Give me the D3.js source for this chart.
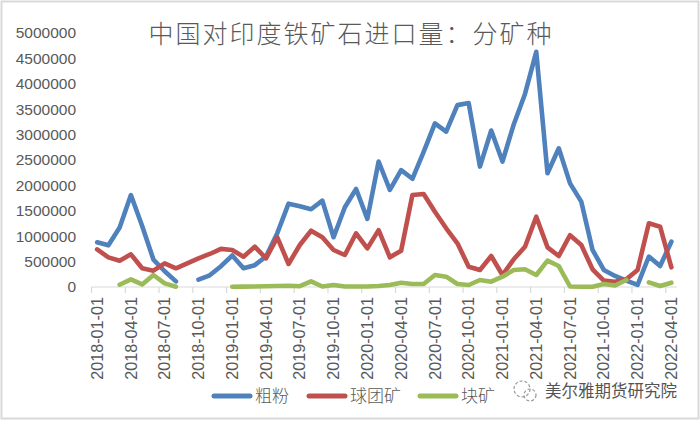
<html>
<head>
<meta charset="utf-8">
<title>中国对印度铁矿石进口量</title>
<script src="https://cdn.jsdelivr.net/npm/d3@7/dist/d3.min.js"></script>
<style>
  body { margin: 0; background: #fff; }
  svg text { fill: #595959; }
</style>
</head>
<body>
<div id="chart"></div>
<script>
// months 2018-01 .. 2022-04
var months = ["2018-01-01","2018-02-01","2018-03-01","2018-04-01","2018-05-01","2018-06-01",
  "2018-07-01","2018-08-01","2018-09-01","2018-10-01","2018-11-01","2018-12-01",
  "2019-01-01","2019-02-01","2019-03-01","2019-04-01","2019-05-01","2019-06-01",
  "2019-07-01","2019-08-01","2019-09-01","2019-10-01","2019-11-01","2019-12-01",
  "2020-01-01","2020-02-01","2020-03-01","2020-04-01","2020-05-01","2020-06-01",
  "2020-07-01","2020-08-01","2020-09-01","2020-10-01","2020-11-01","2020-12-01",
  "2021-01-01","2021-02-01","2021-03-01","2021-04-01","2021-05-01","2021-06-01",
  "2021-07-01","2021-08-01","2021-09-01","2021-10-01","2021-11-01","2021-12-01",
  "2022-01-01","2022-02-01","2022-03-01","2022-04-01"];

// 粗粉
var fines = [880000, 820000, 1170000, 1810000, 1200000, 540000, 310000, 110000, null, 145000, 230000, 410000,
  620000, 370000, 430000, 600000, 1060000, 1640000, 1590000, 1530000, 1700000, 980000, 1570000, 1930000,
  1340000, 2470000, 1910000, 2300000, 2130000, 2660000, 3220000, 3060000, 3580000, 3620000, 2370000, 3080000,
  2470000, 3200000, 3800000, 4630000, 2240000, 2730000, 2040000, 1680000, 730000, 335000, 217000, 125000,
  40000, 600000, 413000, 892000];
// 球团矿
var pellets = [740000, 584000, 518000, 643000, 368000, 321000, 466000, 368000, 466000, 564000, 650000, 750000,
  728000, 597000, 793000, 564000, 978000, 453000, 827000, 1108000, 978000, 728000, 630000, 1057000,
  761000, 1120000, 584000, 715000, 1810000, 1830000, 1480000, 1155000, 860000, 400000, 335000, 610000,
  236000, 545000, 793000, 1384000, 781000, 610000, 1020000, 827000, 348000, 125000, 105000, 151000,
  335000, 1254000, 1187000, 387000];
// 块矿
var lump = [null, null, 45000, 151000, 50000, 236000, 72000, 6000, null, null, null, null,
  5000, 8000, 10000, 15000, 20000, 25000, 15000, 110000, 10000, 40000, 10000, 10000,
  10000, 20000, 39000, 85000, 59000, 59000, 236000, 203000, 59000, 39000, 138000, 105000,
  203000, 335000, 348000, 236000, 518000, 413000, 10000, 5000, 5000, 59000, 30000, 138000,
  null, 92000, 20000, 85000];

var seriesNames = ["粗粉", "球团矿", "块矿"];
var seriesColors = ["#4f81bd", "#c0504d", "#9bbb59"];
var yTicks = [0, 500000, 1000000, 1500000, 2000000, 2500000, 3000000, 3500000, 4000000, 4500000, 5000000];

var width = 700, height = 421;
var svg = d3.select("#chart").append("svg")
  .attr("width", width)
  .attr("height", height);

// outer frame
svg.append("rect")
  .attr("x", 1.5).attr("y", 1.5)
  .attr("width", width - 3).attr("height", height - 4)
  .attr("fill", "#fff")
  .attr("stroke", "#d9d9d9")
  .attr("stroke-width", 2);

var x = d3.scaleBand().domain(months).range([91.5, 677]).padding(0);
var y = d3.scaleLinear().domain([0, 5000000]).range([287, 33]);
var half = x.bandwidth() / 2;

// y labels
svg.append("g").selectAll("text")
  .data(yTicks)
  .enter().append("text")
  .attr("x", 76)
  .attr("y", function (d) { return y(d); })
  .attr("dy", "0.35em")
  .attr("text-anchor", "end")
  .style("font-family", "'Liberation Sans', Arial, sans-serif")
  .style("font-size", "15.5px")
  .text(function (d) { return d3.format("d")(d); });

// x axis line + ticks every 3 months
var tickMonths = months.filter(function (d, i) { return i % 3 == 0; });
var xg = svg.append("g");
xg.append("line")
  .attr("x1", x.range()[0]).attr("x2", x.range()[1])
  .attr("y1", 287).attr("y2", 287)
  .attr("stroke", "#d9d9d9").attr("stroke-width", 1.2);
xg.selectAll(".tick")
  .data(tickMonths)
  .enter().append("line")
  .attr("x1", function (d) { return x(d); })
  .attr("x2", function (d) { return x(d); })
  .attr("y1", 287).attr("y2", 293)
  .attr("stroke", "#d9d9d9").attr("stroke-width", 1.2);
xg.selectAll("text")
  .data(tickMonths)
  .enter().append("text")
  .attr("transform", function (d) { return "translate(" + (x(d) + half) + ",297) rotate(-90)"; })
  .attr("dy", "0.35em")
  .attr("text-anchor", "end")
  .style("font-family", "'Liberation Sans', Arial, sans-serif")
  .style("font-size", "16.2px")
  .text(function (d) { return d; });

// lines
var allSeries = [fines, pellets, lump];
var line = d3.line()
  .defined(function (d) { return d != null; })
  .x(function (d, i) { return x(months[i]) + half; })
  .y(function (d) { return y(d); });

svg.append("g").selectAll("path")
  .data(allSeries)
  .enter().append("path")
  .attr("d", line)
  .attr("fill", "none")
  .attr("stroke", function (d, i) { return seriesColors[i]; })
  .attr("stroke-width", 4.6)
  .attr("stroke-linejoin", "round")
  .attr("stroke-linecap", "round");

// title
svg.append("text")
  .attr("x", 351).attr("y", 43)
  .attr("text-anchor", "middle")
  .style("font-family", "'Noto Sans CJK SC', sans-serif")
  .style("font-weight", 300)
  .style("font-size", "25px")
  .style("letter-spacing", "2px")
  .text("中国对印度铁矿石进口量：分矿种");

// legend
var legendX = [212, 307, 418];
var lg = svg.append("g").selectAll("g")
  .data(seriesNames)
  .enter().append("g")
  .attr("transform", function (d, i) { return "translate(" + legendX[i] + ",396)"; });
lg.append("line")
  .attr("x1", 2).attr("x2", 38)
  .attr("stroke", function (d, i) { return seriesColors[i]; })
  .attr("stroke-width", 5)
  .attr("stroke-linecap", "round");
lg.append("text")
  .attr("x", 43)
  .attr("dy", "0.35em")
  .style("font-family", "'Noto Sans CJK SC', sans-serif")
  .style("font-weight", 300)
  .style("font-size", "17px")
  .text(function (d) { return d; });

// watermark
var wm = svg.append("g").attr("transform", "translate(525,391)");
wm.append("circle").attr("cx", -3).attr("cy", -2).attr("r", 8)
  .attr("fill", "none").attr("stroke", "#9a9a9a").attr("stroke-width", 1.2)
  .attr("stroke-dasharray", "3,2");
wm.append("circle").attr("cx", 5).attr("cy", 4).attr("r", 6)
  .attr("fill", "none").attr("stroke", "#9a9a9a").attr("stroke-width", 1.2)
  .attr("stroke-dasharray", "3,2");
svg.append("text")
  .attr("x", 545).attr("y", 391)
  .attr("dy", "0.35em")
  .style("font-family", "'Noto Sans CJK SC', sans-serif")
  .style("font-size", "16.5px")
  .style("fill", "#555")
  .text("美尔雅期货研究院");
</script>
</body>
</html>
